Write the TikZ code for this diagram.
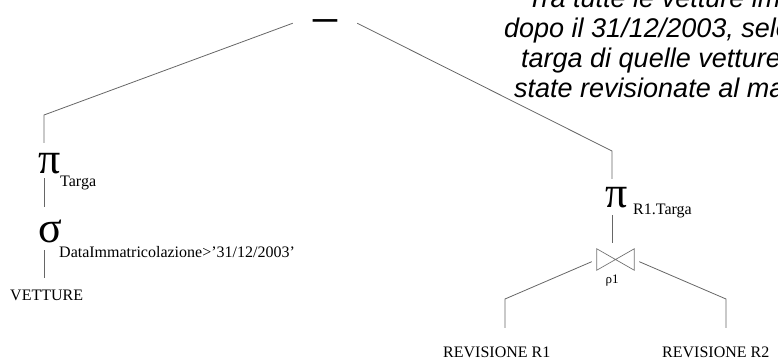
\documentclass[tikz,border=0pt]{standalone}
\usepackage{fontspec}
\setmainfont{Liberation Serif}
\newfontfamily\notefont{Liberation Sans}
\usetikzlibrary{calc, positioning}

\begin{document}
\begin{tikzpicture}[x=1pt, y=-1pt,
	conn/.style={draw=black!60, line width=0.8pt},
	op/.style={inner sep=0pt, anchor=base, font=\fontsize{44}{44}\selectfont},
	sub/.style={inner sep=0pt, anchor=base west, font=\fontsize{16}{16}\selectfont},
	leaf/.style={inner sep=0pt, anchor=base west, text depth=0pt, font=\fontsize{16}{16}\selectfont}]
	\useasboundingbox (0,0) rectangle (778,361);
	\clip (0,0) rectangle (778,361);

	% query text, cut by the page edge (base = last line)
	\node [anchor=base west, inner sep=0pt, align=left, font=\notefont\itshape\fontsize{27}{30}\selectfont] (note) at (504,97)
		{\hspace*{23pt}Tra tutte le vetture imm\\
		dopo il 31/12/2003, sele\\
		\hspace*{17pt}targa di quelle vetture\\
		\hspace*{10pt}state revisionate al ma};

	% root: difference
	\node [inner sep=0pt, minimum width=64pt, minimum height=16pt, font=\fontsize{53}{53}\selectfont] (diff) at (325,15) {\smash{\raisebox{-0.44em}{−}}};

	\coordinate (cL) at (44,115);
	\coordinate (cR) at (612,151);
	\coordinate (cJL) at (505,299);
	\coordinate (cJR) at (726,299);

	% left branch
	\node [op, text height=30pt, text depth=5pt] (piL) at (49.5,173) {π};
	\node [sub] (piLsub) at (60,186) {Targa};
	\node [op, text height=35pt, text depth=8pt] (sigma) at (50.5,242) {σ};
	\node [sub] (sigmasub) at (59,257) {DataImmatricolazione>’31/12/2003’};
	\node [leaf, text height=22pt] (vetture) at (10,300) {VETTURE};

	% right branch
	\node [op, text height=28pt, text depth=8pt] (piR) at (617,207) {π};
	\node [sub] (piRsub) at (633,214) {R1.Targa};
	\node [inner sep=0pt, minimum width=37pt, minimum height=21pt] (join) at (615.5,259.5) {};
	\draw [black!55, line width=0.7pt] (join.north west) -- (join.south east) -- (join.north east) -- (join.south west) -- cycle;
	\node [inner sep=0pt, font=\fontsize{13}{13}\selectfont] (rho) at (612,281) {ρ1};
	\node [leaf, text height=29pt] (rev1) at (443,357) {REVISIONE R1};
	\node [leaf, text height=29pt] (rev2) at (662,357) {REVISIONE R2};

	% connectors
	\draw [conn] (diff.south west) -- (cL) -- (piL.north -| cL);
	\draw [conn] (piL.south -| cL) -- (sigma.north -| cL);
	\draw [conn] (sigma.south -| cL) -- (vetture.north -| cL);
	\draw [conn] (diff.south east) -- (cR) -- (piR.north -| cR);
	\draw [conn, shorten >=6pt] (piR.south -| cR) -- (join.north -| cR);
	\draw [conn, shorten <=5.5pt] (join.west) -- (cJL) -- (rev1.north -| cJL);
	\draw [conn, shorten <=5.5pt] (join.east) -- (cJR) -- (rev2.north -| cJR);
\end{tikzpicture}
\end{document}
